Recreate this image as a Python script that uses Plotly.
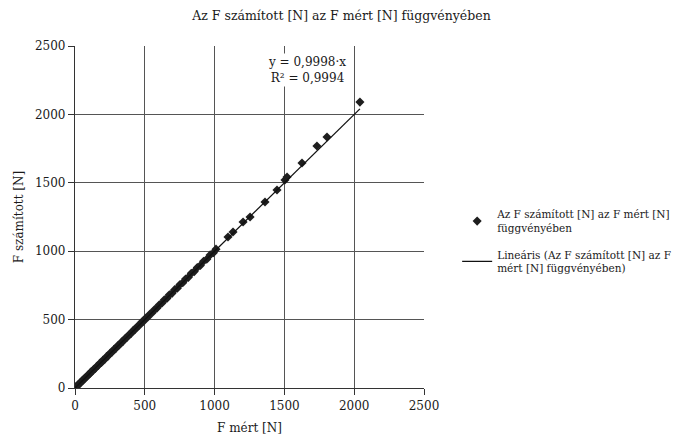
import plotly.graph_objects as go

# Measured force [N]
f_mert = [0, 4, 9, 14, 20, 27, 34, 41, 48, 56, 63, 71, 80, 88, 97, 106, 115, 125, 134, 145,
          156, 166, 178, 190, 201, 214, 226, 238, 252, 265, 278, 291, 305, 318, 332, 346,
          360, 374, 388, 402, 417, 431, 446, 460, 476, 490, 505, 521, 537, 553, 570, 587,
          604, 622, 640, 658, 676, 695, 714, 733, 752, 772, 792, 812, 833, 854, 876, 898,
          921, 944, 968, 992, 1010, 1096, 1132, 1204, 1254, 1361, 1447, 1504, 1519, 1626,
          1733, 1805, 2041]
# Calculated force [N]
f_szamitott = [0, 6, 10, 12, 22, 25, 36, 40, 50, 54, 65, 70, 82, 86, 99, 104, 118, 123, 137, 143,
               158, 164, 181, 187, 204, 211, 229, 235, 255, 262, 281, 288, 308, 315, 335, 343,
               364, 371, 391, 399, 421, 428, 449, 457, 480, 487, 509, 518, 541, 550, 574, 584,
               608, 619, 645, 655, 681, 692, 719, 730, 757, 769, 797, 809, 838, 851, 881, 895,
               926, 941, 973, 989, 1015, 1104, 1140, 1213, 1250, 1360, 1447, 1520, 1542, 1645,
               1769, 1835, 2090]

slope = 0.9998
eq_text = "y = 0,9998·x<br>R² = 0,9994"
title = "Az F számított [N] az F mért [N] függvényében"
x_title = "F mért [N]"
y_title = "F számított [N]"
name_pts = "Az F számított [N] az F mért [N]<br>függvényében"
name_lin = "Lineáris (Az F számított [N] az F<br>mért [N] függvényében)"
ticks = [0, 500, 1000, 1500, 2000, 2500]

serif = "DejaVu Serif, serif"

x_line = [min(f_mert), max(f_mert)]
y_line = [slope * v for v in x_line]

fig = go.Figure()
fig.add_trace(go.Scatter(
    x=f_mert, y=f_szamitott, mode="markers", name=name_pts, legendgroup="a",
    marker=dict(symbol="diamond", size=7, color="#1e1e1e"),
))
fig.add_trace(go.Scatter(
    x=x_line, y=y_line, mode="lines", name=name_lin, legendgroup="b",
    line=dict(color="#111111", width=1.3),
))

fig.add_annotation(
    x=1662, y=2325, xref="x", yref="y", text=eq_text, showarrow=False,
    font=dict(family=serif, size=12, color="#1a1a1a"), bgcolor="white",
    align="center",
)

fig.update_layout(
    width=683, height=435,
    margin=dict(l=75, r=259, t=46, b=47, autoexpand=False),
    paper_bgcolor="white", plot_bgcolor="white",
    font=dict(family=serif, size=12, color="#1a1a1a"),
    title=dict(text=title, x=0.5, xref="container", y=0.975, yref="container",
               xanchor="center", yanchor="top", font=dict(family=serif, size=12.5)),
    showlegend=True,
    legend=dict(x=1.095, y=0.547, xanchor="left", yanchor="top",
                font=dict(family=serif, size=10.5, color="#1a1a1a"),
                bgcolor="rgba(0,0,0,0)", tracegroupgap=10, itemwidth=30),
)
fig.update_xaxes(
    range=[0, 2500], tickvals=ticks, ticktext=[str(t) for t in ticks],
    showgrid=True, gridcolor="#555555", gridwidth=1.2,
    showline=True, linecolor="#333333", linewidth=1.2,
    ticks="outside", ticklen=6, tickcolor="#333333",
    zeroline=False, title=dict(text=x_title, standoff=13, font=dict(size=12)),
    tickfont=dict(size=12),
)
fig.update_yaxes(
    range=[0, 2500], tickvals=ticks, ticktext=[str(t) for t in ticks],
    showgrid=True, gridcolor="#555555", gridwidth=1.2,
    showline=True, linecolor="#333333", linewidth=1.2,
    ticks="outside", ticklen=6, tickcolor="#333333",
    zeroline=False, title=dict(text=y_title, standoff=8, font=dict(size=12)),
    tickfont=dict(size=12),
)

fig.write_html("out.html")
